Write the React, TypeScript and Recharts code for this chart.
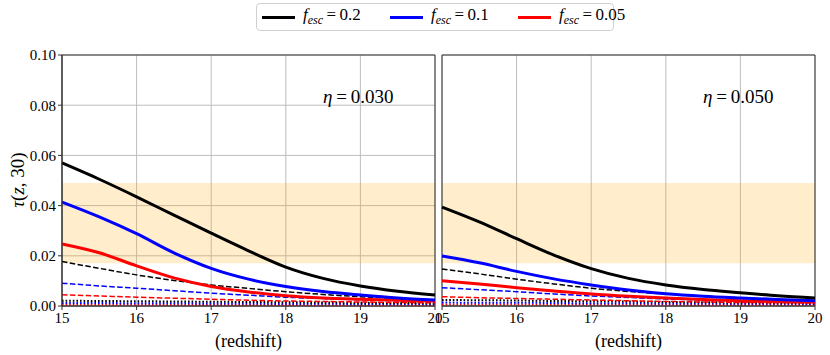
import React from "react";
import {
  LineChart,
  Line,
  XAxis,
  YAxis,
  CartesianGrid,
  ReferenceArea,
} from "recharts";

// redshift samples
const redshift = [15, 15.5, 16, 16.5, 17, 17.5, 18, 18.5, 19, 19.5, 20];
const xTicks = [15, 16, 17, 18, 19, 20];
const yTicks = [0, 0.02, 0.04, 0.06, 0.08, 0.1];

// observed tau band
const bandLow = 0.017;
const bandHigh = 0.049;

// eta = 0.030 panel
const leftF02 = [0.057, 0.0505, 0.0435, 0.0362, 0.029, 0.022, 0.0155, 0.011, 0.008, 0.0059, 0.0044];
const leftF01 = [0.0414, 0.0355, 0.0288, 0.0212, 0.015, 0.0107, 0.0078, 0.0058, 0.0044, 0.0032, 0.0024];
const leftF005 = [0.0247, 0.0212, 0.016, 0.0112, 0.0078, 0.0056, 0.0041, 0.0032, 0.0027, 0.0023, 0.002];
const leftF02Dash = [0.0177, 0.015, 0.0124, 0.0102, 0.0084, 0.007, 0.0057, 0.0046, 0.0037, 0.003, 0.0024];
const leftF01Dash = [0.0091, 0.008, 0.0071, 0.0061, 0.0051, 0.0043, 0.0035, 0.003, 0.0025, 0.0021, 0.0018];
const leftF005Dash = [0.0045, 0.004, 0.0035, 0.0031, 0.0027, 0.0023, 0.002, 0.0018, 0.0016, 0.0014, 0.0013];
const leftF02Dot = [0.0021, 0.002, 0.0019, 0.0018, 0.0017, 0.0016, 0.0015, 0.0014, 0.0013, 0.0012, 0.0011];
const leftF01Dot = [0.0012, 0.0012, 0.0011, 0.0011, 0.001, 0.001, 0.0009, 0.0009, 0.0008, 0.0008, 0.0007];
const leftF005Dot = [0.0005, 0.0005, 0.0005, 0.0004, 0.0004, 0.0004, 0.0004, 0.0003, 0.0003, 0.0003, 0.0003];

// eta = 0.050 panel
const rightF02 = [0.0394, 0.0335, 0.0268, 0.0203, 0.0149, 0.011, 0.0084, 0.0066, 0.0053, 0.0041, 0.0032];
const rightF01 = [0.0199, 0.0172, 0.0138, 0.0108, 0.0084, 0.0064, 0.0049, 0.0039, 0.0032, 0.0026, 0.0021];
const rightF005 = [0.0101, 0.0088, 0.0073, 0.006, 0.0048, 0.0039, 0.0032, 0.0026, 0.0021, 0.0018, 0.0016];
const rightF02Dash = [0.0147, 0.0128, 0.0107, 0.0088, 0.0071, 0.0058, 0.0048, 0.0039, 0.0032, 0.0025, 0.002];
const rightF01Dash = [0.0073, 0.0065, 0.0057, 0.0048, 0.004, 0.0034, 0.0028, 0.0024, 0.002, 0.0017, 0.0014];
const rightF005Dash = [0.0037, 0.0033, 0.003, 0.0027, 0.0024, 0.0021, 0.0018, 0.0016, 0.0014, 0.0013, 0.0012];
const rightF02Dot = [0.0024, 0.0023, 0.0022, 0.002, 0.0019, 0.0018, 0.0016, 0.0015, 0.0014, 0.0013, 0.0012];
const rightF01Dot = [0.0014, 0.0013, 0.0013, 0.0012, 0.0011, 0.0011, 0.001, 0.001, 0.0009, 0.0009, 0.0008];
const rightF005Dot = [0.0006, 0.0006, 0.0006, 0.0005, 0.0005, 0.0005, 0.0005, 0.0004, 0.0004, 0.0004, 0.0004];

const FONT = '"Liberation Serif", "Times New Roman", Tinos, Times, "DejaVu Serif", "Noto Serif", serif';
const SPINE = "#333";
const GRID = "#bdbdbd";

const black = "#000000";
const blue = "#0000ff";
const red = "#ff0000";

function buildRows(series: number[][]) {
  return redshift.map((z, i) => {
    const row: any = { z };
    series.forEach((s, k) => {
      row["s" + k] = s[i];
    });
    return row;
  });
}

const leftRows = buildRows([
  leftF02, leftF01, leftF005,
  leftF02Dash, leftF01Dash, leftF005Dash,
  leftF02Dot, leftF01Dot, leftF005Dot,
]);
const rightRows = buildRows([
  rightF02, rightF01, rightF005,
  rightF02Dash, rightF01Dash, rightF005Dash,
  rightF02Dot, rightF01Dot, rightF005Dot,
]);

const styles = [
  { color: black, width: 3, dash: undefined },
  { color: blue, width: 3, dash: undefined },
  { color: red, width: 3, dash: undefined },
  { color: black, width: 1.5, dash: "5.5 2.4" },
  { color: blue, width: 1.5, dash: "5.5 2.4" },
  { color: red, width: 1.5, dash: "5.5 2.4" },
  { color: black, width: 2, dash: "1.6 2" },
  { color: blue, width: 2, dash: "1.6 2" },
  { color: red, width: 2, dash: "1.6 2" },
];

interface PanelProps {
  rows: any[];
  showYLabels: boolean;
  width: number;
  marginLeft: number;
  marginRight: number;
}

function Panel({ rows, showYLabels, width, marginLeft, marginRight }: PanelProps) {
  const tickStyle = { fontFamily: FONT, fontSize: 15, fill: "#000", style: { fontFamily: FONT } };
  // thin lines first so the thick ones sit on top
  const order = [8, 7, 6, 5, 4, 3, 2, 1, 0];
  return (
    <LineChart
      width={width}
      height={355}
      data={rows}
      margin={{ top: 55, right: marginRight, bottom: 0, left: marginLeft }}
      style={{ fontFamily: FONT }}
    >
      <CartesianGrid stroke={GRID} strokeWidth={1} />
      <XAxis
        dataKey="z"
        type="number"
        domain={[15, 20]}
        ticks={xTicks}
        interval={0}
        height={49}
        tickSize={4}
        tick={tickStyle}
        stroke={SPINE}
        label={{
          value: "(redshift)",
          position: "insideBottom",
          offset: 8,
          style: { fontFamily: FONT, fontSize: 18, fill: "#000" },
        }}
      />
      <YAxis
        type="number"
        domain={[0, 0.1]}
        ticks={yTicks}
        interval={0}
        width={showYLabels ? 62 : 0}
        tickSize={4}
        tick={showYLabels ? tickStyle : false}
        tickFormatter={(v: number) => v.toFixed(2)}
        stroke={SPINE}
      />
      <ReferenceArea
        x1={15}
        x2={20}
        y1={bandLow}
        y2={bandHigh}
        fill="#ffa500"
        fillOpacity={0.2}
        stroke="none"
      />
      {order.map((k) => (
        <Line
          key={k}
          dataKey={"s" + k}
          type="monotone"
          stroke={styles[k].color}
          strokeWidth={styles[k].width}
          strokeDasharray={styles[k].dash}
          dot={false}
          activeDot={false}
          isAnimationActive={false}
        />
      ))}
      <ReferenceArea
        x1={15}
        x2={20}
        y1={0}
        y2={0.1}
        fill="none"
        stroke={SPINE}
        strokeWidth={1}
      />
    </LineChart>
  );
}

function LegendItem({ color, label, left }: { color: string; label: string; left: number }) {
  return (
    <div style={{ position: "absolute", left, top: 0, height: 26, display: "flex", alignItems: "center" }}>
      <div style={{ width: 33, height: 3, background: color }} />
      <span style={{ marginLeft: 8, fontSize: 17, whiteSpace: "nowrap" }}>
        <i>f</i>
        <sub style={{ fontSize: 12, fontStyle: "italic" }}>esc</sub>
        {"\u2009=\u2009" + label}
      </span>
    </div>
  );
}

export default function App() {
  return (
    <div
      style={{
        position: "absolute",
        left: 0,
        top: 0,
        width: 830,
        height: 355,
        background: "#fff",
        fontFamily: FONT,
        overflow: "hidden",
      }}
    >
      <div style={{ position: "absolute", left: 0, top: 0 }}>
        <Panel rows={leftRows} showYLabels={true} width={455} marginLeft={0} marginRight={20} />
      </div>
      <div style={{ position: "absolute", left: 0, top: 0 }}>
        <Panel rows={rightRows} showYLabels={false} width={830} marginLeft={442} marginRight={15} />
      </div>

      {/* legend box */}
      <div
        style={{
          position: "absolute",
          left: 256,
          top: 3,
          width: 356,
          height: 26,
          border: "1px solid #d0d0d0",
          borderRadius: 4,
          background: "#fff",
        }}
      >
        <LegendItem color={black} label="0.2" left={5} />
        <LegendItem color={blue} label="0.1" left={133} />
        <LegendItem color={red} label="0.05" left={261} />
      </div>

      {/* panel annotations */}
      <div style={{ position: "absolute", left: 323, top: 86, fontSize: 19, whiteSpace: "nowrap" }}>
        <i>η</i>{"\u2009=\u20090.030"}
      </div>
      <div style={{ position: "absolute", left: 703, top: 86, fontSize: 19, whiteSpace: "nowrap" }}>
        <i>η</i>{"\u2009=\u20090.050"}
      </div>

      {/* y axis title */}
      <div
        style={{
          position: "absolute",
          left: 18,
          top: 180,
          fontSize: 19,
          whiteSpace: "nowrap",
          transform: "translate(-50%, -50%) rotate(-90deg)",
        }}
      >
        <i>τ</i>(<i>z</i>, 30)
      </div>
    </div>
  );
}
